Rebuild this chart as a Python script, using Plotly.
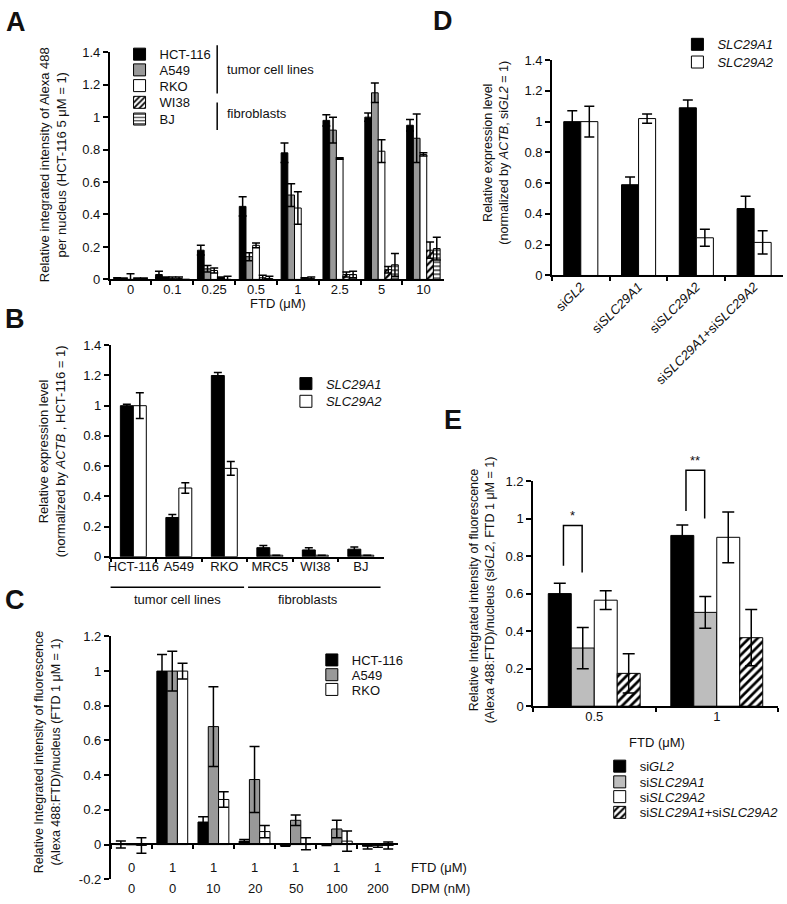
import plotly.graph_objects as go

# ---------------- data ----------------
# Panel A
a_doses = ["0", "0.1", "0.25", "0.5", "1", "2.5", "5", "10"]
a_hct116 = [0.005, 0.03, 0.18, 0.45, 0.78, 0.98, 1.00, 0.95]
a_hct116_err = [0.005, 0.02, 0.03, 0.06, 0.06, 0.035, 0.025, 0.035]
a_a549 = [0.005, 0.01, 0.065, 0.14, 0.52, 0.92, 1.15, 0.87]
a_a549_err = [0.003, 0.005, 0.02, 0.025, 0.07, 0.08, 0.06, 0.15]
a_rko = [0.0, 0.005, 0.055, 0.21, 0.44, 0.745, 0.79, 0.77]
a_rko_err = [0.035, 0.01, 0.015, 0.015, 0.10, 0.005, 0.07, 0.01]
a_wi38 = [0.005, 0.005, 0.01, 0.01, 0.005, 0.03, 0.06, 0.18]
a_wi38_err = [0.003, 0.01, 0.005, 0.015, 0.005, 0.015, 0.02, 0.05]
a_bj = [0.005, -0.005, 0.0, 0.005, 0.005, 0.03, 0.09, 0.19]
a_bj_err = [0.003, 0.005, 0.02, 0.015, 0.01, 0.02, 0.07, 0.07]

# Panel B
b_cells = ["HCT-116", "A549", "RKO", "MRC5", "WI38", "BJ"]
b_slc29a1 = [1.0, 0.26, 1.2, 0.06, 0.045, 0.05]
b_slc29a1_err = [0.01, 0.02, 0.02, 0.015, 0.015, 0.015]
b_slc29a2 = [1.0, 0.455, 0.585, 0.01, 0.01, 0.01]
b_slc29a2_err = [0.085, 0.035, 0.045, 0.0, 0.0, 0.0]

# Panel C
c_ftd = ["0", "1", "1", "1", "1", "1", "1"]
c_dpm = ["0", "0", "10", "20", "50", "100", "200"]
c_hct116 = [0.0, 1.0, 0.13, 0.02, -0.005, 0.0, -0.01]
c_hct116_err = [0.02, 0.095, 0.03, 0.01, 0.005, 0.005, 0.015]
c_a549 = [0.0, 1.0, 0.68, 0.375, 0.14, 0.09, -0.005]
c_a549_err = [0.0, 0.115, 0.23, 0.19, 0.03, 0.05, 0.01]
c_rko = [-0.005, 1.0, 0.26, 0.075, 0.005, 0.02, -0.005]
c_rko_err = [0.045, 0.045, 0.045, 0.035, 0.035, 0.058, 0.02]

# Panel D
d_sirna = ["si<i>GL2</i>", "si<i>SLC29A1</i>", "si<i>SLC29A2</i>",
           "si<i>SLC29A1</i>+si<i>SLC29A2</i>"]
d_slc29a1 = [1.0, 0.59, 1.09, 0.435]
d_slc29a1_err = [0.07, 0.05, 0.05, 0.08]
d_slc29a2 = [1.0, 1.02, 0.245, 0.215]
d_slc29a2_err = [0.10, 0.03, 0.055, 0.075]

# Panel E
e_ftd = ["0.5", "1"]
e_sigl2 = [0.60, 0.91]
e_sigl2_err = [0.055, 0.055]
e_sislc29a1 = [0.31, 0.50]
e_sislc29a1_err = [0.11, 0.085]
e_sislc29a2 = [0.565, 0.90]
e_sislc29a2_err = [0.05, 0.135]
e_both = [0.175, 0.365]
e_both_err = [0.105, 0.15]
e_sig_text = ["*", "**"]
e_sig_top = [0.963, 1.257]
e_sig_left = [0.749, 1.04]
e_sig_right = [0.712, 1.0]

# ---------------- layout helpers ----------------
W, H = 787, 904
FONT = "Arial, Liberation Sans, Helvetica, sans-serif"
TXT = "#111111"


def fx(p):
    return p / W


def fy(p):
    return 1 - p / H


def offsets(n, fill):
    w = fill / n
    return w, [-fill / 2 + i * w for i in range(n)]


legend_specs = {}


def bar(x, y, err, name, color, xa, ya, legpos, w, off, cap=4, pattern=None):
    marker = dict(color=color, line=dict(color="black", width=1))
    if pattern is not None:
        marker["pattern"] = pattern
    lid = "legend" if not legend_specs else f"legend{len(legend_specs) + 1}"
    legend_specs[lid] = legpos
    return go.Bar(
        x=x, y=y, name=name, xaxis=xa, yaxis=ya, legend=lid,
        width=w, offset=off, marker=marker, cliponaxis=False,
        error_y=dict(type="data", array=err, color="black", thickness=1.5,
                     width=cap, visible=True),
        hoverinfo="skip",
    )


stripe = dict(shape="/", fgcolor="black", bgcolor="white", size=5,
              solidity=0.45, fillmode="replace")
hline = dict(shape="-", fgcolor="black", bgcolor="white", size=4,
             solidity=0.3, fillmode="replace")
stripe_e = dict(shape="/", fgcolor="black", bgcolor="white", size=6,
                solidity=0.45, fillmode="replace")

GRAY = "#999999"
LGRAY = "#bdbdbd"

fig = go.Figure()

# ---- Panel A
w, offs = offsets(5, 0.8)
fig.add_trace(bar(a_doses, a_hct116, a_hct116_err, "HCT-116", "black", "x", "y", (155, 48), w, offs[0]))
fig.add_trace(bar(a_doses, a_a549, a_a549_err, "A549", GRAY, "x", "y", (155, 64), w, offs[1]))
fig.add_trace(bar(a_doses, a_rko, a_rko_err, "RKO", "white", "x", "y", (155, 80), w, offs[2]))
fig.add_trace(bar(a_doses, a_wi38, a_wi38_err, "WI38", "white", "x", "y", (155, 97), w, offs[3], pattern=stripe))
fig.add_trace(bar(a_doses, a_bj, a_bj_err, "BJ", "white", "x", "y", (155, 114), w, offs[4], pattern=hline))

# ---- Panel B
w, offs = offsets(2, 0.57)
fig.add_trace(bar(b_cells, b_slc29a1, b_slc29a1_err, "<i>SLC29A1</i>", "black", "x2", "y2", (322, 383), w, offs[0]))
fig.add_trace(bar(b_cells, b_slc29a2, b_slc29a2_err, "<i>SLC29A2</i>", "white", "x2", "y2", (322, 401), w, offs[1]))

# ---- Panel C
c_cats = [f"{a}|{b}" for a, b in zip(c_ftd, c_dpm)]
w, offs = offsets(3, 0.75)
fig.add_trace(bar(c_cats, c_hct116, c_hct116_err, "HCT-116", "black", "x3", "y3", (348, 664), w, offs[0], cap=5))
fig.add_trace(bar(c_cats, c_a549, c_a549_err, "A549", GRAY, "x3", "y3", (348, 679), w, offs[1], cap=5))
fig.add_trace(bar(c_cats, c_rko, c_rko_err, "RKO", "white", "x3", "y3", (348, 694), w, offs[2], cap=5))

# ---- Panel D
w, offs = offsets(2, 0.59)
fig.add_trace(bar(d_sirna, d_slc29a1, d_slc29a1_err, "<i>SLC29A1</i>", "black", "x4", "y4", (715, 38), w, offs[0], cap=5))
fig.add_trace(bar(d_sirna, d_slc29a2, d_slc29a2_err, "<i>SLC29A2</i>", "white", "x4", "y4", (715, 56), w, offs[1], cap=5))

# ---- Panel E
w, offs = offsets(4, 0.75)
fig.add_trace(bar(e_ftd, e_sigl2, e_sigl2_err, "si<i>GL2</i>", "black", "x5", "y5", (637, 772), w, offs[0], cap=6))
fig.add_trace(bar(e_ftd, e_sislc29a1, e_sislc29a1_err, "si<i>SLC29A1</i>", LGRAY, "x5", "y5", (637, 788), w, offs[1], cap=6))
fig.add_trace(bar(e_ftd, e_sislc29a2, e_sislc29a2_err, "si<i>SLC29A2</i>", "white", "x5", "y5", (637, 803), w, offs[2], cap=6))
fig.add_trace(bar(e_ftd, e_both, e_both_err, "si<i>SLC29A1</i>+si<i>SLC29A2</i>", "white", "x5", "y5", (637, 819), w, offs[3], cap=6, pattern=stripe_e))

# significance brackets (on an invisible overlay with identical y scale)
lo, hi = offs[0] + w / 2 + 0.03, offs[1] + w / 2 - 0.005
for i, (t, yt, yl, yr) in enumerate(zip(e_sig_text, e_sig_top, e_sig_left, e_sig_right)):
    fig.add_trace(go.Scatter(
        x=[i + lo, i + lo, i + hi, i + hi], y=[yl, yt, yt, yr],
        mode="lines", line=dict(color="black", width=1.5),
        xaxis="x6", yaxis="y6", showlegend=False, hoverinfo="skip"))

# ---------------- axes ----------------
axis_common = dict(showline=True, linecolor="black", linewidth=1.5,
                   ticks="outside", ticklen=5, tickwidth=1.5, tickcolor="black",
                   showgrid=False, zeroline=False,
                   tickfont=dict(size=13, color=TXT, family=FONT))


def xax(l, r, anchor, **kw):
    d = dict(axis_common, domain=[fx(l), fx(r)], anchor=anchor, type="category",
             tickson="boundaries", ticklen=4, ticklabelstandoff=-3)
    d.update(kw)
    return d


def yax(top, bot, rng, anchor, **kw):
    d = dict(axis_common, domain=[fy(bot), fy(top)], range=rng, anchor=anchor, dtick=0.2)
    d.update(kw)
    return d


E_UNIT = (711 - 482) / 1.2

layout = dict(
    width=W, height=H, margin=dict(l=0, r=0, t=0, b=0),
    paper_bgcolor="white", plot_bgcolor="rgba(0,0,0,0)",
    font=dict(family=FONT, size=13, color=TXT),
    barmode="overlay", showlegend=True,
    xaxis=xax(107, 443, "y", range=[-0.5, 7.5], tickangle=0),
    yaxis=yax(46, 277, [0, 1.4], "x"),
    xaxis2=xax(108, 382, "y2", range=[-0.5, 5.5], tickangle=0),
    yaxis2=yax(344, 559, [0, 1.4], "x2"),
    xaxis3=xax(108, 397, "free", position=fy(851), range=[-0.5, 6.5],
               showticklabels=False),
    yaxis3=yax(640, 887, [-0.2, 1.2], "x3",
               tickvals=[-0.2, 0, 0.2, 0.4, 0.6, 0.8, 1, 1.2],
               ticktext=["-0.2", "0", "0.2", "0.4", "0.6", "0.8", "1", "1.2"]),
    xaxis4=xax(551, 783, "y4", range=[-0.5, 3.5], tickangle=-45,
               tickfont=dict(size=13, color=TXT, family=FONT)),
    yaxis4=yax(54, 273, [0, 1.4], "x4"),
    xaxis5=xax(532, 778, "y5", range=[-0.5, 1.5], tickangle=0),
    yaxis5=yax(482, 711, [0, 1.2], "x5"),
    xaxis6=dict(domain=[fx(532), fx(778)], anchor="y6", range=[-0.5, 1.5], visible=False),
    yaxis6=dict(domain=[fy(711), fy(711 - 1.3 * E_UNIT)], anchor="x6", range=[0, 1.3],
                visible=False),
)

# one legend per entry so each entry sits where the reference puts it
LEG_TEXT_OFFSET = 38
for lid, (tx, ty) in legend_specs.items():
    layout[lid] = dict(x=fx(tx - LEG_TEXT_OFFSET), y=fy(ty), xanchor="left", yanchor="middle",
                       bgcolor="rgba(0,0,0,0)", borderwidth=0,
                       font=dict(size=13, color=TXT, family=FONT), itemwidth=30,
                       itemclick=False, itemdoubleclick=False)

fig.update_layout(**layout)

# ---------------- annotations ----------------
ann = []


def text(x, y, t, size=13, xanchor="center", yanchor="middle", angle=0, bold=False, **kw):
    if bold:
        t = f"<b>{t}</b>"
    d = dict(x=x, y=y, text=t, showarrow=False, xanchor=xanchor, yanchor=yanchor,
             textangle=angle, font=dict(size=size, color=TXT, family=FONT))
    if "xref" not in kw:
        d["xref"] = "paper"
    if "yref" not in kw:
        d["yref"] = "paper"
    d.update(kw)
    ann.append(d)


# panel letters
for letter, xp, yp in [("A", 13, 15), ("B", 12, 317), ("C", 12, 603), ("D", 442, 14), ("E", 452, 420)]:
    text(fx(xp), fy(yp), letter, size=27, bold=True)

# y-axis titles
text(fx(51), fy(160), "Relative integrated intensity of Alexa 488<br>per nucleus (HCT-116 5 μM = 1)", size=13, angle=-90)
text(fx(49), fy(452), "Relative expression level<br>(normalized by <i>ACTB</i> , HCT-116 = 1)", size=13, angle=-90)
text(fx(45), fy(757), "Relative Integrated intensity of fluorescence<br>(Alexa 488:FTD)/nucleus (FTD 1 μM = 1)", size=12.5, angle=-90)
text(fx(494), fy(148), "Relative expression level<br>(normalized by <i>ACTB</i>, si<i>GL2</i> = 1)", size=12.5, angle=-90)
text(fx(481), fy(593), "Relative Integrated intensity of fluorescence<br>(Alexa 488:FTD)/nucleus (si<i>GL2</i>, FTD 1 μM = 1)", size=12.5, angle=-90)

# x-axis titles
text(fx(276), fy(301), "FTD (μM)")
text(fx(657), fy(748), "FTD (μM)")

# panel A legend grouping
text(fx(223), fy(64), "tumor cell lines", xanchor="left")
text(fx(223), fy(108), "fibroblasts", xanchor="left")

# panel B grouping
text(fx(175), fy(603), "tumor cell lines")
text(fx(306), fy(603), "fibroblasts")

# panel C two-row tick labels
for cat, f, dp in zip(c_cats, c_ftd, c_dpm):
    text(cat, fy(875), f, xref="x3")
    text(cat, fy(896), dp, xref="x3")
text(fx(408), fy(875), "FTD (μM)", xanchor="left")
text(fx(408), fy(896), "DPM (nM)", xanchor="left")

# panel E significance marks
for i, (t, yt) in enumerate(zip(e_sig_text, e_sig_top)):
    text(i + (lo + hi) / 2, yt, t, yanchor="bottom", xref="x6", yref="y6", size=13)

fig.update_layout(annotations=ann)

# ---------------- decorative lines ----------------
shapes = []


def seg(x0, y0, x1, y1):
    shapes.append(dict(type="line", xref="paper", yref="paper",
                       x0=fx(x0), y0=fy(y0), x1=fx(x1), y1=fy(y1),
                       line=dict(color="black", width=1.5)))


# panel A legend group brackets
seg(215, 39, 215, 88)
seg(215, 97, 215, 125)
# panel B group underlines
seg(108, 590, 242, 590)
seg(246, 590, 379, 590)

fig.update_layout(shapes=shapes)

fig.write_html(
    "out.html",
    config={"displayModeBar": False},
    post_script="document.body.style.margin='0';document.body.style.overflow='hidden';",
)
